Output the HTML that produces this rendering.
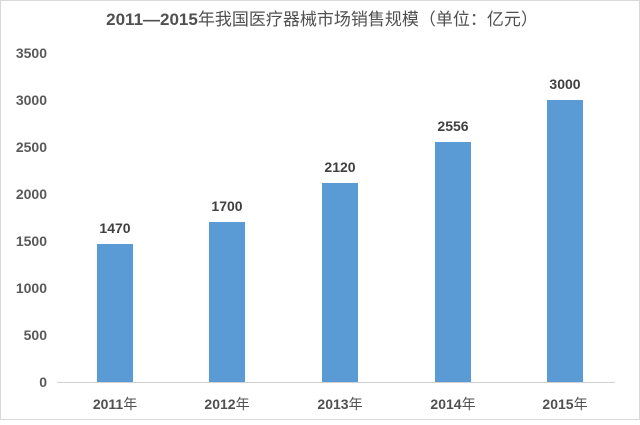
<!DOCTYPE html>
<html><head><meta charset="utf-8"><style>
body{margin:0;background:#fff}
svg text{font-family:"Liberation Sans","Noto Sans CJK SC",sans-serif}
</style></head><body>
<svg width="640" height="420" xmlns="http://www.w3.org/2000/svg">
<rect x="0.5" y="0.5" width="639" height="419" fill="#fff" stroke="#d9d9d9"/>
<text x="322" y="25" text-anchor="middle" font-size="17" font-weight="bold" fill="#505050">2011—2015<tspan font-weight="normal">年我国医疗器械市场销售规模（单位：亿元）</tspan></text>
<g font-size="14" fill="#595959" text-anchor="end" font-weight="bold">
<text x="47" y="387">0</text><text x="47" y="340">500</text><text x="47" y="293">1000</text><text x="47" y="246">1500</text><text x="47" y="199">2000</text><text x="47" y="152">2500</text><text x="47" y="105">3000</text><text x="47" y="58">3500</text>
</g>
<line x1="57" y1="382.5" x2="615" y2="382.5" stroke="#d0d0d0" stroke-width="1"/>
<g fill="#5b9bd5">
<rect x="97" y="244" width="36" height="138"/>
<rect x="209" y="222" width="36" height="160"/>
<rect x="322" y="183" width="36" height="199"/>
<rect x="435" y="142" width="36" height="240"/>
<rect x="547" y="100" width="36" height="282"/>
</g>
<g font-size="14" font-weight="bold" fill="#404040" text-anchor="middle">
<text x="115" y="233">1470</text><text x="227" y="211">1700</text><text x="340" y="172">2120</text><text x="453" y="131">2556</text><text x="565" y="89">3000</text>
</g>
<g font-size="14" fill="#505050" text-anchor="middle">
<text x="115" y="409"><tspan font-weight="bold">2011</tspan>年</text><text x="227" y="409"><tspan font-weight="bold">2012</tspan>年</text><text x="340" y="409"><tspan font-weight="bold">2013</tspan>年</text><text x="453" y="409"><tspan font-weight="bold">2014</tspan>年</text><text x="565" y="409"><tspan font-weight="bold">2015</tspan>年</text>
</g>
</svg>
</body></html>
